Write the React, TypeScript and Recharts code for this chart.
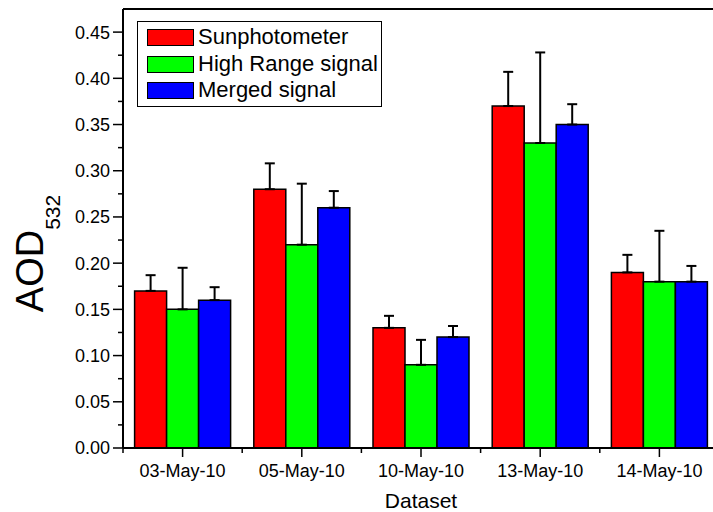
import { BarChart, Bar, XAxis, YAxis, ErrorBar, Legend, ReferenceLine } from "recharts";

const FONT = '"Liberation Sans", Arial, Helvetica, sans-serif';

const datasets = ["03-May-10", "05-May-10", "10-May-10", "13-May-10", "14-May-10"];
const sunphotometer = [0.17, 0.28, 0.13, 0.37, 0.19];
const sunphotometerErr = [0.017, 0.028, 0.013, 0.037, 0.019];
const highRange = [0.15, 0.22, 0.09, 0.33, 0.18];
const highRangeErr = [0.045, 0.066, 0.027, 0.098, 0.055];
const merged = [0.16, 0.26, 0.12, 0.35, 0.18];
const mergedErr = [0.014, 0.018, 0.012, 0.022, 0.017];

const majorTicks = [0, 0.05, 0.1, 0.15, 0.2, 0.25, 0.3, 0.35, 0.4, 0.45];
const minorTicks = [0.025, 0.075, 0.125, 0.175, 0.225, 0.275, 0.325, 0.375, 0.425];
const Y_MAX = 0.475;

const series = [
  { key: "sun", name: "Sunphotometer", color: "#ff0000" },
  { key: "high", name: "High Range signal", color: "#00ff00" },
  { key: "merged", name: "Merged signal", color: "#0000ff" },
];

// error bars are only drawn upwards, so the lower bound is 0
const data = datasets.map((d, i) => ({
  dataset: d,
  sun: sunphotometer[i],
  sunErr: [0, sunphotometerErr[i]],
  high: highRange[i],
  highErr: [0, highRangeErr[i]],
  merged: merged[i],
  mergedErr: [0, mergedErr[i]],
}));

const allYTicks = [...majorTicks, ...minorTicks].sort((a, b) => a - b);

function YTick({ x, y, payload }: any) {
  const major = majorTicks.includes(payload.value);
  return (
    <g>
      <line x1={x - (major ? 10 : 5)} x2={x} y1={y} y2={y} stroke="#000" strokeWidth={1.5} />
      {major && (
        <text x={x - 13} y={y} dy="0.36em" textAnchor="end" fontSize={18} fontFamily={FONT} fill="#000">
          {payload.value.toFixed(2)}
        </text>
      )}
    </g>
  );
}

function XTick({ x, y, payload }: any) {
  const half = payload.offset ?? 0;
  return (
    <g>
      <line x1={x} x2={x} y1={y} y2={y + 9} stroke="#000" strokeWidth={1.5} />
      <line x1={x - half} x2={x - half} y1={y} y2={y + 5} stroke="#000" strokeWidth={1.5} />
      <text x={x} y={y + 29} textAnchor="middle" fontSize={18} fontFamily={FONT} fill="#000">
        {payload.value}
      </text>
    </g>
  );
}

function AodLabel({ viewBox }: any) {
  const bx = viewBox.x + 43;
  const cy = viewBox.y + viewBox.height / 2 + 25;
  return (
    <text transform={`translate(${bx},${cy}) rotate(-90)`} textAnchor="middle" fontFamily={FONT} fill="#000">
      <tspan fontSize={38}>AOD</tspan>
      <tspan fontSize={21} dy={17}>532</tspan>
    </text>
  );
}

function DatasetLabel({ viewBox }: any) {
  return (
    <text x={viewBox.x + viewBox.width / 2} y={viewBox.y + 60} textAnchor="middle" fontSize={21} fontFamily={FONT} fill="#000">
      Dataset
    </text>
  );
}

function LegendBox() {
  return (
    <div
      style={{
        border: "1px solid #000",
        background: "#fff",
        padding: "2px 3px 2px 9px",
        fontFamily: FONT,
        fontSize: 22,
        color: "#000",
      }}
    >
      {series.map((s) => (
        <div key={s.key} style={{ display: "flex", alignItems: "center", height: 26.7 }}>
          <span
            style={{
              display: "inline-block",
              width: 45,
              height: 15,
              background: s.color,
              border: "1px solid #000",
              marginRight: 4,
            }}
          />
          <span style={{ lineHeight: "26.7px", whiteSpace: "nowrap" }}>{s.name}</span>
        </div>
      ))}
    </div>
  );
}

export default function App() {
  return (
    <div style={{ position: "absolute", left: 0, top: 0, width: 713, height: 512, overflow: "hidden", background: "#fff" }}>
      <BarChart
        width={730}
        height={512}
        data={data}
        margin={{ top: 9, right: 11, bottom: 0, left: 0 }}
        barCategoryGap={11.6}
        barGap={0}
      >
        <XAxis
          dataKey="dataset"
          height={64}
          tick={<XTick />}
          tickLine={false}
          tickSize={0}
          tickMargin={0}
          axisLine={{ stroke: "#000", strokeWidth: 2 }}
          interval={0}
          label={<DatasetLabel />}
        />
        <YAxis
          width={123}
          domain={[0, Y_MAX]}
          ticks={allYTicks}
          interval={0}
          tick={<YTick />}
          tickLine={false}
          tickSize={0}
          tickMargin={0}
          axisLine={{ stroke: "#000", strokeWidth: 2 }}
          label={<AodLabel />}
        />
        <ReferenceLine y={Y_MAX} stroke="#000" strokeWidth={2} />
        <Legend
          layout="vertical"
          align="center"
          verticalAlign="middle"
          content={<LegendBox />}
          wrapperStyle={{ left: 137, top: 21, width: "auto" }}
        />
        {series.map((s) => (
          <Bar
            key={s.key}
            dataKey={s.key}
            name={s.name}
            fill={s.color}
            stroke="#000"
            strokeWidth={1.5}
            isAnimationActive={false}
          >
            <ErrorBar
              dataKey={`${s.key}Err`}
              direction="y"
              width={5}
              stroke="#000"
              strokeWidth={2}
              isAnimationActive={false}
            />
          </Bar>
        ))}
      </BarChart>
    </div>
  );
}
